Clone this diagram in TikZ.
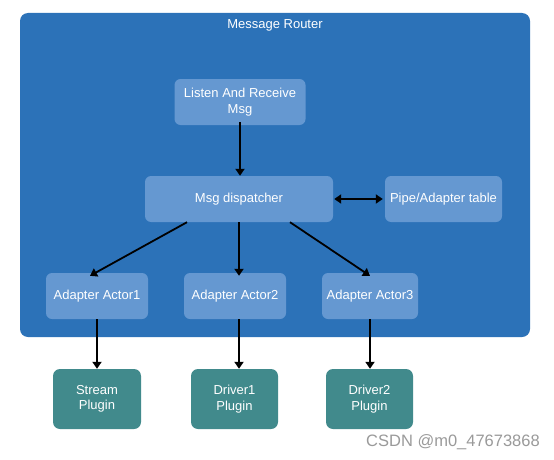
\documentclass[tikz,border=0pt]{standalone}
\usepackage{fontspec}
\setmainfont{Liberation Sans}
\usetikzlibrary{arrows.meta}
\definecolor{routerblue}{HTML}{2C72B8}
\definecolor{boxblue}{HTML}{6598D1}
\definecolor{plugteal}{HTML}{418A8C}
\definecolor{wmgray}{HTML}{9A9A9A}
\begin{document}
\begin{tikzpicture}[x=1pt,y=-1pt,
  inbox/.style={fill=boxblue,rounded corners=6pt,text=white,font=\fontsize{13}{15.5}\selectfont,align=center,inner sep=0pt},
  plug/.style={fill=plugteal,rounded corners=7pt,text=white,font=\fontsize{13}{15.5}\selectfont,align=center,inner sep=0pt},
  arr/.style={draw=black,line width=1.8pt,-{Triangle[length=7pt,width=9pt]}},
  darr/.style={draw=black,line width=1.8pt,{Triangle[length=7pt,width=9pt]}-{Triangle[length=7pt,width=9pt]}}]
\useasboundingbox (0,0) rectangle (554,460);
\fill[white] (0,0) rectangle (554,460);
% container
\fill[routerblue,rounded corners=8pt] (20,13) rectangle (530,337);
\node[text=white,font=\fontsize{13}{15.5}\selectfont] (title) at (275,25) {Message Router};
% inner boxes
\node[inbox,minimum width=131pt,minimum height=46pt] (listen) at (240,102) {Listen And Receive\\Msg};
\node[inbox,minimum width=188pt,minimum height=46pt] (disp) at (239,199) {Msg dispatcher};
\node[inbox,minimum width=117pt,minimum height=46pt] (pipe) at (443.5,199) {Pipe/Adapter table};
\node[inbox,minimum width=102pt,minimum height=46pt] (a1) at (97,296) {Adapter Actor1};
\node[inbox,minimum width=102pt,minimum height=46pt] (a2) at (235,296) {Adapter Actor2};
\node[inbox,minimum width=96pt,minimum height=46pt] (a3) at (370,296) {Adapter Actor3};
% plugins
\node[plug,minimum width=88pt,minimum height=60pt] (p1) at (97,399) {Stream\\Plugin};
\node[plug,minimum width=87pt,minimum height=60pt] (p2) at (234.5,399) {Driver1\\Plugin};
\node[plug,minimum width=87pt,minimum height=60pt] (p3) at (369.5,399) {Driver2\\Plugin};
% watermark
\node[anchor=east,text=wmgray,font=\fontsize{16.5}{19}\selectfont,inner sep=0pt] (wm) at (540,442) {CSDN @m0\_47673868};
% connectors
\draw[arr] ([yshift=3pt]listen.south) -- (listen.south |- disp.north);
\draw[darr] ([xshift=1pt]disp.east) -- ([xshift=-2pt]pipe.west);
\draw[arr] ([xshift=-52pt]disp.south) -- ([xshift=-7pt,yshift=-3pt]a1.north);
\draw[arr] (disp.south) -- ([yshift=-3pt]disp.south |- a2.north);
\draw[arr] ([xshift=51pt]disp.south) -- ([yshift=-3pt]a3.north);
\draw[arr] (a1.south) -- (p1.north);
\draw[arr] ([xshift=4pt]a2.south) -- ([xshift=4pt]a2.south |- p2.north);
\draw[arr] (a3.south) -- (a3.south |- p3.north);
\end{tikzpicture}
\end{document}
